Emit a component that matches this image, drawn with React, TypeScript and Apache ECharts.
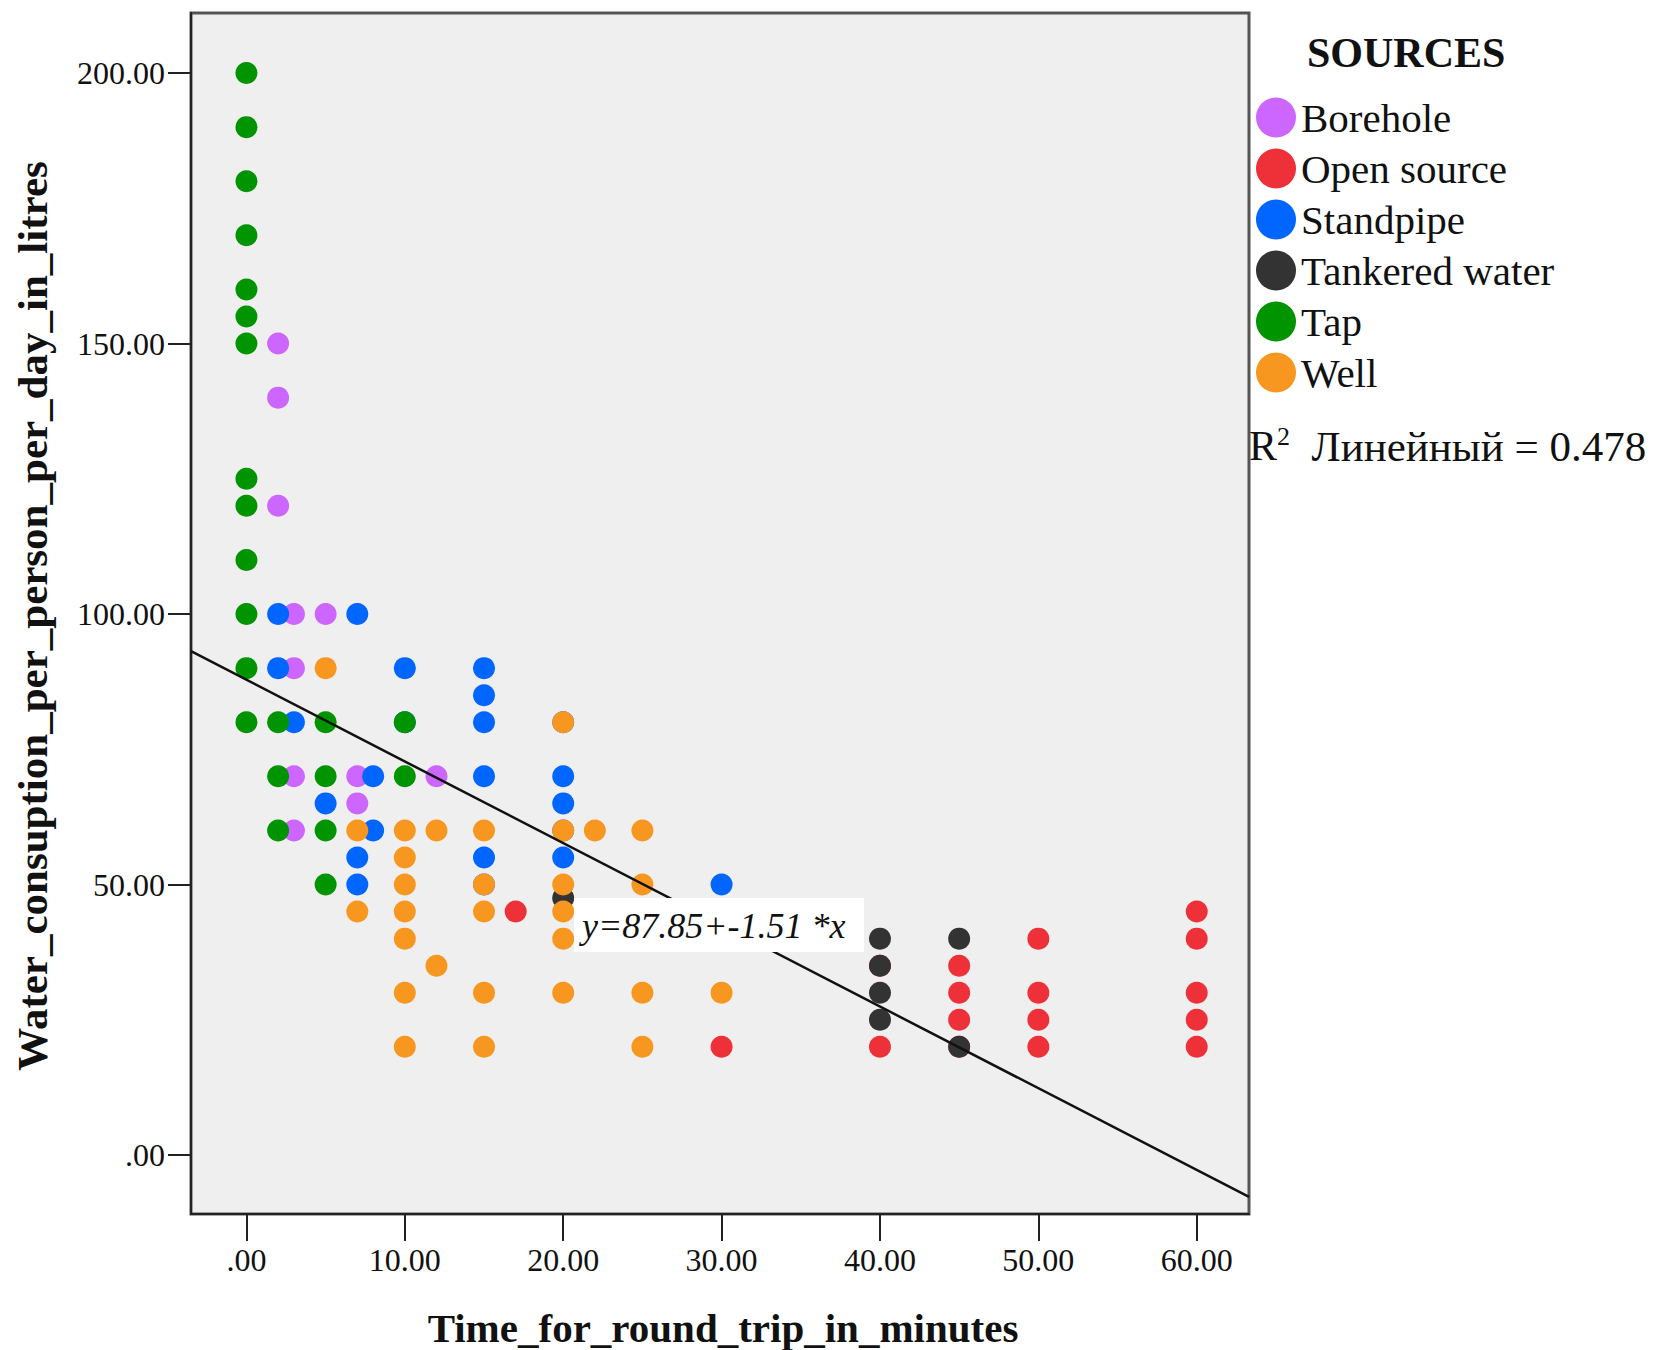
import React, { useEffect, useRef } from "react";
import * as echarts from "echarts";

// ---------- data ----------
const sourceNames = ["Borehole", "Open source", "Standpipe", "Tankered water", "Tap", "Well"];
const sourceColors = ["#cc66ff", "#ee3038", "#0066ff", "#333333", "#009400", "#f7971f"];

const borehole: [number, number][] = [
  [2, 150], [2, 140], [2, 120], [3, 100], [5, 100], [3, 90], [3, 70], [7, 70], [12, 70],
  [7, 65], [3, 60],
];
const openSource: [number, number][] = [
  [17, 45], [30, 20], [40, 35], [40, 20], [45, 35], [45, 30], [45, 25], [45, 20],
  [50, 40], [50, 30], [50, 25], [50, 20], [60, 45], [60, 40], [60, 30], [60, 25], [60, 20],
];
const standpipe: [number, number][] = [
  [2, 100], [7, 100], [2, 90], [10, 90], [15, 90], [15, 85], [3, 80], [10, 80], [15, 80],
  [20, 80], [8, 70], [15, 70], [20, 70], [5, 65], [20, 65], [8, 60], [20, 60], [7, 55],
  [15, 55], [20, 55], [7, 50], [15, 50], [30, 50],
];
const tankered: [number, number][] = [
  [20, 47.5], [40, 40], [40, 35], [40, 30], [40, 25], [45, 40], [45, 20],
];
const tap: [number, number][] = [
  [0, 200], [0, 190], [0, 180], [0, 170], [0, 160], [0, 155], [0, 150], [0, 125], [0, 120],
  [0, 110], [0, 100], [0, 90], [0, 80], [2, 80], [5, 80], [10, 80], [2, 70], [5, 70],
  [10, 70], [2, 60], [5, 60], [5, 50],
];
const well: [number, number][] = [
  [5, 90], [20, 80], [7, 60], [10, 60], [12, 60], [15, 60], [20, 60], [22, 60], [25, 60],
  [10, 55], [10, 50], [15, 50], [20, 50], [25, 50], [7, 45], [10, 45], [15, 45], [20, 45],
  [10, 40], [20, 40], [12, 35], [10, 30], [15, 30], [20, 30], [25, 30], [30, 30],
  [10, 20], [15, 20], [25, 20],
];
const seriesData = [borehole, openSource, standpipe, tankered, tap, well];

const xTicks = [0, 10, 20, 30, 40, 50, 60];
const yTicks = [0, 50, 100, 150, 200];
const xMin = -3.5;
const xMax = 63.3;
const yMin = -10.9;
const yMax = 211.1;

// fit line (as printed on the chart)
const intercept = 87.85;
const slope = -1.51;
const r2 = 0.478;

const xTitle = "Time_for_round_trip_in_minutes";
const yTitle = "Water_consuption_per_person_per_day_in_litres";
const legendTitle = "SOURCES";
const equation = "y=87.85+-1.51 *x";

const SERIF = "'Liberation Serif', 'Times New Roman', serif";

const fmt = (v: number) => (v === 0 ? ".00" : v.toFixed(2));

export default function App() {
  const ref = useRef<HTMLDivElement>(null);

  useEffect(() => {
    if (!ref.current) return;
    const chart = echarts.init(ref.current, undefined, { renderer: "svg" });

    const scatterSeries = sourceNames.map((name, i) => ({
      name,
      type: "scatter",
      data: seriesData[i],
      symbol: "circle",
      symbolSize: 22,
      itemStyle: { color: sourceColors[i], opacity: 1 },
      emphasis: { disabled: true },
      z: 2,
    }));

    const fitLine = {
      name: "fit",
      type: "line",
      data: [
        [xMin, intercept + slope * xMin],
        [xMax, intercept + slope * xMax],
      ],
      symbol: "none",
      lineStyle: { color: "#111", width: 2.5 },
      clip: true,
      z: 3,
      silent: true,
    };

    chart.setOption({
      animation: false,
      backgroundColor: "#ffffff",
      grid: {
        left: 191,
        top: 13,
        width: 1058,
        height: 1201,
        show: true,
        backgroundColor: "#efefef",
        borderColor: "#555",
        borderWidth: 3,
        containLabel: false,
        outerBoundsMode: "none",
      },
      xAxis: {
        type: "value",
        min: xMin,
        max: xMax,
        splitLine: { show: false },
        axisLine: { show: true, onZero: false, lineStyle: { color: "#222", width: 2 } },
        axisTick: {
          show: true,
          inside: false,
          length: 27,
          customValues: xTicks,
          lineStyle: { color: "#222", width: 2 },
        },
        axisLabel: {
          customValues: xTicks,
          formatter: fmt,
          margin: 30,
          color: "#111",
          fontFamily: SERIF,
          fontSize: 32,
        },
      },
      yAxis: {
        type: "value",
        min: yMin,
        max: yMax,
        splitLine: { show: false },
        axisLine: { show: true, onZero: false, lineStyle: { color: "#222", width: 2 } },
        axisTick: {
          show: true,
          inside: false,
          length: 23,
          customValues: yTicks,
          lineStyle: { color: "#222", width: 2 },
        },
        axisLabel: {
          customValues: yTicks,
          formatter: fmt,
          margin: 26,
          color: "#111",
          fontFamily: SERIF,
          fontSize: 32,
        },
      },
      legend: {
        data: sourceNames,
        orient: "vertical",
        left: 1251,
        top: 92,
        icon: "circle",
        itemWidth: 40,
        itemHeight: 40,
        itemGap: 10,
        selectedMode: false,
        textStyle: {
          fontFamily: SERIF,
          fontSize: 41,
          lineHeight: 40,
          color: "#111",
          padding: [0, 0, 0, 0],
        },
      },
      graphic: [
        {
          type: "text",
          x: 1307,
          y: 53,
          z: 100,
          style: {
            text: legendTitle,
            font: `bold 42px ${SERIF}`,
            fill: "#111",
            align: "left",
            verticalAlign: "middle",
          },
        },
        {
          type: "text",
          x: 1249,
          y: 446,
          z: 100,
          style: {
            text: "{r|R}{s|2}{t|  Линейный = " + r2.toFixed(3) + "}",
            fill: "#111",
            align: "left",
            verticalAlign: "middle",
            rich: {
              r: { fontFamily: SERIF, fontSize: 42, lineHeight: 46, fill: "#111" },
              s: { fontFamily: SERIF, fontSize: 26, lineHeight: 26, verticalAlign: "top", fill: "#111" },
              t: { fontFamily: SERIF, fontSize: 43, lineHeight: 46, fill: "#111" },
            },
          },
        },
        {
          type: "text",
          x: 723,
          y: 1328,
          z: 100,
          style: {
            text: xTitle,
            font: `bold 41px ${SERIF}`,
            fill: "#111",
            align: "center",
            verticalAlign: "middle",
          },
        },
        {
          type: "text",
          x: 32,
          y: 616,
          rotation: Math.PI / 2,
          z: 100,
          style: {
            text: yTitle,
            font: `bold 43px ${SERIF}`,
            fill: "#111",
            align: "center",
            verticalAlign: "middle",
          },
        },
        {
          type: "group",
          z: 100,
          children: [
            {
              type: "rect",
              shape: { x: 574, y: 898, width: 290, height: 54 },
              style: { fill: "#ffffff" },
              z: 100,
            },
            {
              type: "text",
              x: 582,
              y: 926,
              z: 101,
              style: {
                text: equation,
                font: `italic 36px ${SERIF}`,
                fill: "#111",
                align: "left",
                verticalAlign: "middle",
              },
            },
          ],
        },
      ],
      series: [...scatterSeries, fitLine],
    });

    return () => {
      chart.dispose();
    };
  }, []);

  return (
    <div
      ref={ref}
      style={{
        position: "fixed",
        left: 0,
        top: 0,
        width: 1680,
        height: 1350,
        background: "#fff",
      }}
    />
  );
}
